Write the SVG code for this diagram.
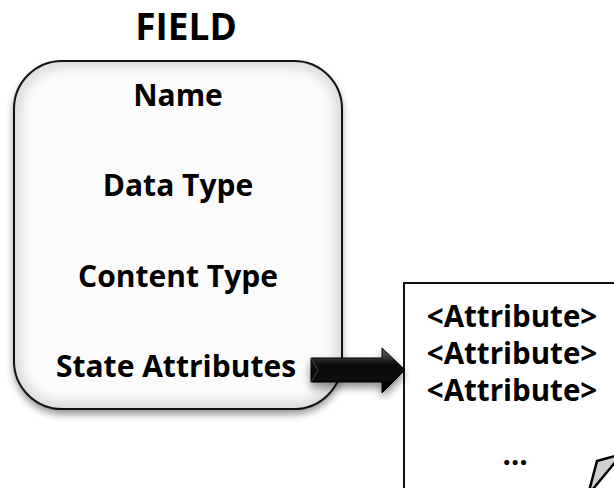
<svg xmlns="http://www.w3.org/2000/svg" width="614" height="488" viewBox="0 0 614 488">
<style>
.t{font-family:"Open Sans",Lato,"Liberation Sans",sans-serif;font-weight:bold;fill:#000;text-anchor:middle}
.s{font-size:30px}
.a{font-size:29.5px}
.h{font-size:37px}
</style>
<defs>
<filter id="shadow" x="-10%" y="-10%" width="120%" height="125%">
<feGaussianBlur in="SourceAlpha" stdDeviation="4"/>
<feOffset dx="0" dy="5"/>
<feComponentTransfer><feFuncA type="linear" slope="0.45"/></feComponentTransfer>
<feMerge><feMergeNode/><feMergeNode in="SourceGraphic"/></feMerge>
</filter>
<filter id="blur"><feGaussianBlur stdDeviation="6"/></filter>
<clipPath id="boxclip"><rect x="14" y="61" width="328" height="348" rx="48"/></clipPath>
<linearGradient id="arrowg" x1="0" y1="0" x2="0" y2="1">
<stop offset="0" stop-color="#6a6a6a"/>
<stop offset="0.35" stop-color="#111"/>
<stop offset="1" stop-color="#000"/>
</linearGradient>
</defs>
<text class="t h" x="186" y="40">FIELD</text>
<g id="field">
<rect x="14" y="61" width="328" height="348" rx="48" fill="#fbfbfb" filter="url(#shadow)"/>
<g clip-path="url(#boxclip)">
<rect x="14" y="61" width="328" height="348" rx="48" fill="none" stroke="#d8d8d8" stroke-width="14" filter="url(#blur)"/>
</g>
<rect x="14" y="61" width="328" height="348" rx="48" fill="none" stroke="#111" stroke-width="2"/>
<text class="t s" x="178" y="106">Name</text>
<text class="t s" x="178" y="196">Data Type</text>
<text class="t s" x="178" y="287">Content Type</text>
<text class="t s" x="176" y="377">State Attributes</text>
</g>
<g id="attributes">
<rect x="404" y="283" width="230" height="230" fill="#fff" stroke="#111" stroke-width="2"/>
<text class="t a" x="512" y="327">&lt;Attribute&gt;</text>
<text class="t a" x="512" y="364">&lt;Attribute&gt;</text>
<text class="t a" x="512" y="401">&lt;Attribute&gt;</text>
<text class="t a" x="515" y="465">…</text>
<polygon points="597,461 622,454 588,495" fill="#cfcfcf" stroke="#000" stroke-width="2.5" stroke-linejoin="miter"/>
</g>
<g id="connectors">
<polygon points="311,358 382,358 382,348 405,370 382,393 382,382 311,382" fill="url(#arrowg)" stroke="#000" stroke-width="1" filter="url(#shadow)"/>
<polyline points="311,358 318,370 311,382" fill="none" stroke="#444" stroke-width="1"/>
</g>
</svg>
